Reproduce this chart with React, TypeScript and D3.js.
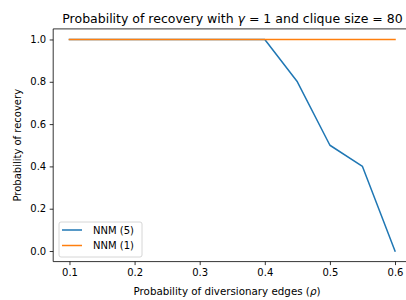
import React, { useRef, useEffect } from 'react';
import * as d3 from 'd3';

// probability of diversionary edges
const rhoValues = [0.1, 0.15, 0.2, 0.25, 0.3, 0.35, 0.4, 0.45, 0.5, 0.55, 0.6];
// probability of recovery per method
const nnm5 = [1, 1, 1, 1, 1, 1, 1, 0.8, 0.5, 0.4, 0.0];
const nnm1 = [1, 1, 1, 1, 1, 1, 1, 1, 1, 1, 1];
const seriesNames = ['NNM (5)', 'NNM (1)'];
const seriesColors = ['#1f77b4', '#ff7f0e'];
const xTicks = [0.1, 0.2, 0.3, 0.4, 0.5, 0.6];
const yTicks = [0.0, 0.2, 0.4, 0.6, 0.8, 1.0];

const FONT = 'DejaVu Sans, sans-serif';

const App = () => {
  const svgRef = useRef<SVGSVGElement>(null);

  useEffect(() => {
    const width = 406;
    const height = 300;
    // axes box (right side runs past the picture edge, like the original)
    const left = 53.2, right = 411.3, top = 28.9, bottom = 261.6;

    const svg = d3.select(svgRef.current);
    svg.selectAll('*').remove();
    svg.attr('width', width).attr('height', height);

    svg.append('rect').attr('width', width).attr('height', height).attr('fill', '#fff');

    const x = d3.scaleLinear().domain([0.075, 0.625]).range([left, right]);
    const y = d3.scaleLinear().domain([-0.05, 1.05]).range([bottom, top]);

    // lines
    const allSeries = [nnm5, nnm1];
    const line = d3.line<number>()
      .x((_, i) => x(rhoValues[i]))
      .y(d => y(d));

    allSeries.forEach((vals, k) => {
      svg.append('path')
        .datum(vals)
        .attr('d', line)
        .attr('fill', 'none')
        .attr('stroke', seriesColors[k])
        .attr('stroke-width', 1.5)
        .attr('stroke-linejoin', 'round')
        .attr('stroke-linecap', 'square');
    });

    // spines
    const spine = svg.append('g').attr('stroke', '#000').attr('stroke-width', 0.8);
    spine.append('line').attr('x1', left).attr('x2', left).attr('y1', top).attr('y2', bottom);
    spine.append('line').attr('x1', left).attr('x2', right).attr('y1', bottom).attr('y2', bottom);
    spine.append('line').attr('x1', left).attr('x2', right).attr('y1', top).attr('y2', top);
    spine.append('line').attr('x1', right).attr('x2', right).attr('y1', top).attr('y2', bottom);

    // x axis
    const xAxis = svg.append('g')
      .attr('transform', `translate(0,${bottom})`)
      .call(d3.axisBottom(x).tickValues(xTicks).tickFormat(d3.format('.1f')).tickSize(3.5).tickPadding(3.5));
    xAxis.select('.domain').remove();
    xAxis.selectAll('line').attr('stroke', '#000').attr('stroke-width', 0.8);
    xAxis.selectAll('text').attr('font-family', FONT).attr('font-size', 10).attr('fill', '#000');

    // y axis
    const yAxis = svg.append('g')
      .attr('transform', `translate(${left},0)`)
      .call(d3.axisLeft(y).tickValues(yTicks).tickFormat(d3.format('.1f')).tickSize(3.5).tickPadding(3.5));
    yAxis.select('.domain').remove();
    yAxis.selectAll('line').attr('stroke', '#000').attr('stroke-width', 0.8);
    yAxis.selectAll('text').attr('font-family', FONT).attr('font-size', 10).attr('fill', '#000');

    // title
    const title = svg.append('text')
      .attr('x', 232.5)
      .attr('y', 23)
      .attr('text-anchor', 'middle')
      .attr('font-family', FONT)
      .attr('font-size', 12.5)
      .attr('fill', '#000');
    title.append('tspan').text('Probability of recovery with ');
    title.append('tspan').attr('font-style', 'italic').text('γ');
    title.append('tspan').text(' = 1 and clique size = 80');

    // axis labels
    const xl = svg.append('text')
      .attr('x', 227)
      .attr('y', 295)
      .attr('text-anchor', 'middle')
      .attr('font-family', FONT)
      .attr('font-size', 10.3)
      .attr('fill', '#000');
    xl.append('tspan').text('Probability of diversionary edges (');
    xl.append('tspan').attr('font-style', 'italic').text('ρ');
    xl.append('tspan').text(')');

    svg.append('text')
      .attr('transform', `translate(21,${(top + bottom) / 2}) rotate(-90)`)
      .attr('text-anchor', 'middle')
      .attr('font-family', FONT)
      .attr('font-size', 10)
      .attr('fill', '#000')
      .text('Probability of recovery');

    // legend
    const lg = svg.append('g').attr('transform', 'translate(59,222)');
    lg.append('rect')
      .attr('width', 83)
      .attr('height', 35)
      .attr('rx', 2)
      .attr('fill', '#fff')
      .attr('fill-opacity', 0.8)
      .attr('stroke', '#cccccc')
      .attr('stroke-width', 0.8);
    seriesNames.forEach((name, i) => {
      const yy = 8 + i * 15.5;
      lg.append('line')
        .attr('x1', 3).attr('x2', 23)
        .attr('y1', yy).attr('y2', yy)
        .attr('stroke', seriesColors[i])
        .attr('stroke-width', 1.5);
      lg.append('text')
        .attr('x', 34)
        .attr('y', yy + 3.5)
        .attr('font-family', FONT)
        .attr('font-size', 10)
        .attr('fill', '#000')
        .text(name);
    });
  }, []);

  return (
    <svg ref={svgRef} style={{ position: 'absolute', left: 0, top: 0, display: 'block' }} />
  );
};

export default App;
